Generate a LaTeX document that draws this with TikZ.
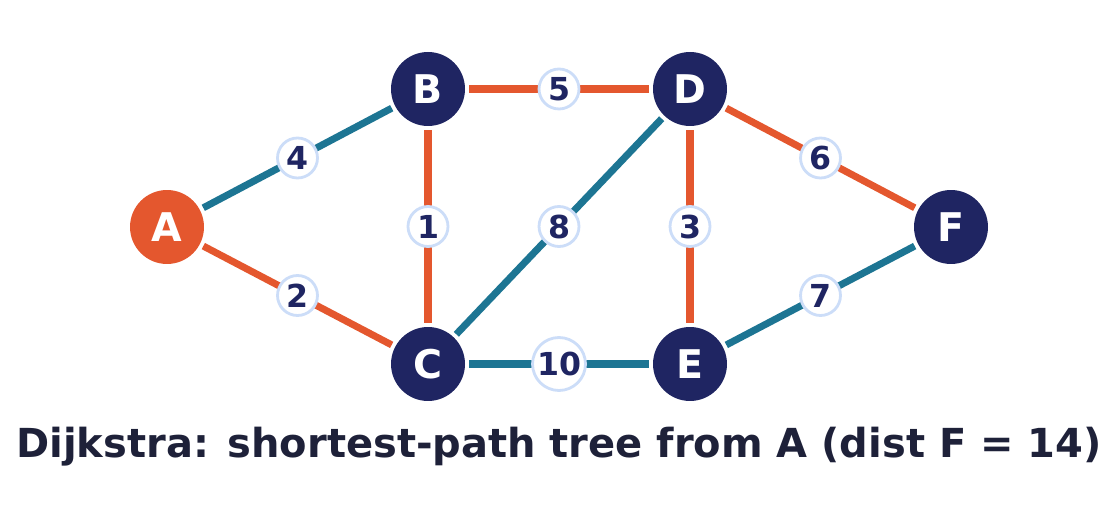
\documentclass[tikz,border=0pt]{standalone}
\usepackage{fontspec}
\setmainfont{DejaVu Sans}
\definecolor{treeorange}{HTML}{E4572E}
\definecolor{navy}{HTML}{1F2562}
\definecolor{teal}{HTML}{1D7593}
\definecolor{paleblue}{HTML}{CCDDF8}
\definecolor{titleink}{HTML}{1E2139}
\tikzset{
  vertex/.style={circle, fill=navy, text=white, minimum size=1.48cm, inner sep=0pt, outer sep=2.3pt, font=\fontsize{22.5}{22.5}\selectfont\bfseries},
  start/.style={vertex, fill=treeorange},
  tree/.style={treeorange, line width=4pt},
  other/.style={teal, line width=4pt},
  weight/.style={circle, fill=white, draw=paleblue, line width=1.6pt, minimum size=0.8cm, inner sep=0pt, text=navy, font=\fontsize{18}{18}\selectfont\bfseries}
}
\begin{document}
\begin{tikzpicture}[x=0.02cm, y=-0.02cm]
        \useasboundingbox (0,0) rectangle (1118,519);

        \node[start] (A) at (167,227) {A};
        \node[vertex] (B) at (428,89) {B};
        \node[vertex] (D) at (690,89) {D};
        \node[vertex] (F) at (951,227) {F};
        \node[vertex] (C) at (428,364) {C};
        \node[vertex] (E) at (690,364) {E};

        \draw[other] (A) -- (B) node[weight, midway] {4};
        \draw[tree] (A) -- (C) node[weight, midway] {2};
        \draw[tree] (B) -- (D) node[weight, midway] {5};
        \draw[tree] (B) -- (C) node[weight, midway] {1};
        \draw[other] (C) -- (D) node[weight, midway] {8};
        \draw[tree] (D) -- (E) node[weight, midway] {3};
        \draw[tree] (D) -- (F) node[weight, midway] {6};
        \draw[other] (C) -- (E) node[weight, midway, minimum size=1.06cm] {10};
        \draw[other] (E) -- (F) node[weight, midway] {7};

        \node[text=titleink, font=\fontsize{22.75}{22.75}\selectfont\bfseries] (title) at (559,447) {Dijkstra: shortest-path tree from A (dist F = 14)};
    \end{tikzpicture}
\end{document}
